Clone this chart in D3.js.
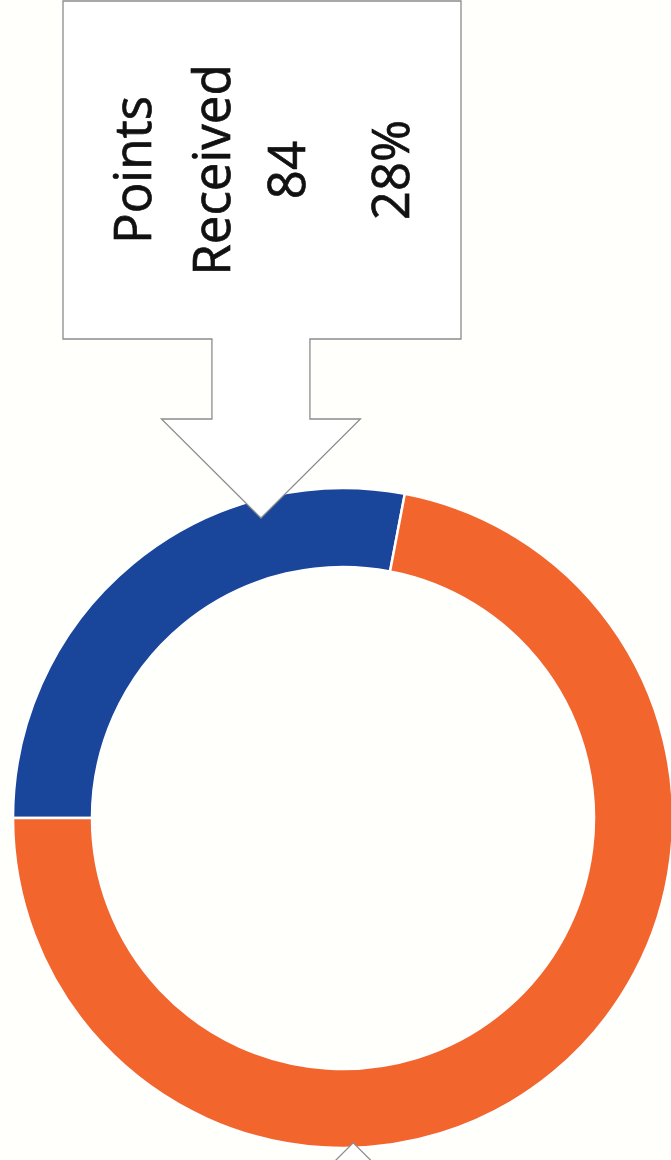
<!DOCTYPE html>
<html>
<head>
<meta charset="utf-8">
<script src="https://cdn.jsdelivr.net/npm/d3@7"></script>
<style>
  html, body { margin: 0; padding: 0; background: #fffffc; }
  svg { display: block; }
</style>
</head>
<body>
<svg id="chart" width="671" height="1160"></svg>
<script>
// Points split between the two categories
const categories = ["Points Received", "Points Not Received"];
const points = [84, 216];
const sliceColors = ["#19459a", "#f2652c"];

const width = 671, height = 1160;
const cx = 343, cy = 818;
const outerR = 330, innerR = 251;

const svg = d3.select("#chart");
svg.append("rect").attr("width", width).attr("height", height).attr("fill", "#fffffc");

const total = d3.sum(points);
const data = categories.map((c, i) => ({ category: c, value: points[i], share: points[i] / total }));

// Ring starts at 9 o'clock and runs clockwise
const pie = d3.pie()
  .value(d => d.value)
  .sort(null)
  .startAngle(-Math.PI / 2)
  .endAngle(3 * Math.PI / 2);

const arc = d3.arc().innerRadius(innerR).outerRadius(outerR);
const arcs = pie(data);

const g = svg.append("g").attr("transform", `translate(${cx},${cy})`);
g.selectAll("path.slice")
  .data(arcs)
  .join("path")
  .attr("class", "slice")
  .attr("d", arc)
  .attr("fill", (d, i) => sliceColors[i])
  .attr("stroke", "#ffffff")
  .attr("stroke-width", 2.5);

// Callout shapes: a box with a block arrow whose tip lands on the ring
function calloutPath(tip, dir, shaftHalf, headHalf, headLen, shaftLen, box) {
  // dir = -1: arrow points up (box below), 1: arrow points down (box above)
  const baseY = tip[1] - dir * headLen;
  const boxEdge = baseY - dir * shaftLen;
  const outerEdge = dir === 1 ? box.y0 : box.y1;
  const p = d3.path();
  p.moveTo(box.x0, outerEdge);
  p.lineTo(box.x1, outerEdge);
  p.lineTo(box.x1, boxEdge);
  p.lineTo(tip[0] + shaftHalf, boxEdge);
  p.lineTo(tip[0] + shaftHalf, baseY);
  p.lineTo(tip[0] + headHalf, baseY);
  p.lineTo(tip[0], tip[1]);
  p.lineTo(tip[0] - headHalf, baseY);
  p.lineTo(tip[0] - shaftHalf, baseY);
  p.lineTo(tip[0] - shaftHalf, boxEdge);
  p.lineTo(box.x0, boxEdge);
  p.closePath();
  return p.toString();
}

function tipPoint(angleDeg, r) {
  const a = angleDeg * Math.PI / 180;
  return [cx + r * Math.sin(a), cy - r * Math.cos(a)];
}

const callouts = [
  { tip: tipPoint(-15.3, 311), dir: 1, box: { x0: 63, y0: 1, x1: 461 } },
  { tip: tipPoint(178.2, 325), dir: -1, box: { x0: 160, y1: 1700, x1: 560 } }
];

const labelLayer = svg.append("g");
callouts.forEach(c => {
  labelLayer.append("path")
    .attr("d", calloutPath(c.tip, c.dir, 49, 99.5, 99, 80, c.box))
    .attr("fill", "#ffffff")
    .attr("stroke", "#8c8c8c")
    .attr("stroke-width", 1.3)
    .attr("stroke-linejoin", "miter");
});

// Label text for the received share, set sideways
const fmtPct = d3.format(".0%");
const first = data[0];
const lines = [...first.category.split(" "), String(first.value), fmtPct(first.share)];
const baselines = [151, 230, 305, 409];
const textMidY = (callouts[0].box.y0 + 339) / 2;

lines.forEach((t, i) => {
  svg.append("text")
    .attr("transform", `translate(${baselines[i]},${textMidY}) rotate(-90)`)
    .attr("text-anchor", "middle")
    .attr("font-family", "'Open Sans', sans-serif")
    .attr("font-size", 51)
    .attr("fill", "#111111")
    .attr("stroke", "#111111")
    .attr("stroke-width", 0.7)
    .text(t);
});
</script>
</body>
</html>
